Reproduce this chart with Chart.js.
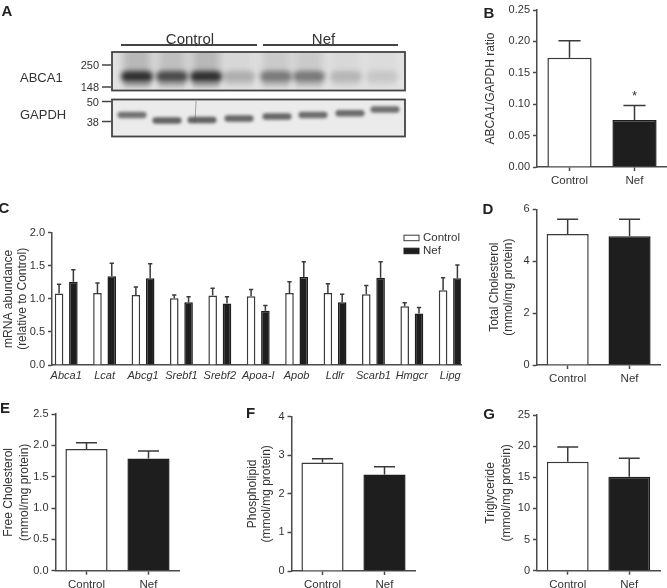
<!DOCTYPE html>
<html>
<head>
<meta charset="utf-8">
<script src="https://cdn.jsdelivr.net/npm/chart.js@4.4.1/dist/chart.umd.min.js"></script>
<style>
  body { margin: 0; background: #fff; }
  #fig { position: relative; width: 667px; height: 588px; overflow: hidden; font-family: "Liberation Sans", Arial, sans-serif; color: #333; }
  #fig canvas { position: absolute; left: 0; top: 0; }
  .lbl { position: absolute; white-space: nowrap; line-height: 1; }
  .panel { font-weight: bold; font-size: 15px; color: #222; }
  .blot { font-size: 13px; }
  .blothead { font-size: 15px; }
  .marker { font-size: 11px; }
</style>
</head>
<body>
<div id="fig">
  <canvas id="blot" width="667" height="588"></canvas>
  <canvas id="chartB" width="667" height="588"></canvas>
  <canvas id="chartC" width="667" height="588"></canvas>
  <canvas id="chartD" width="667" height="588"></canvas>
  <canvas id="chartE" width="667" height="588"></canvas>
  <canvas id="chartF" width="667" height="588"></canvas>
  <canvas id="chartG" width="667" height="588"></canvas>
</div>
<script>
const groups = ["Control", "Nef"];

// B: ABCA1/GAPDH
const ratioB = [0.174, 0.075];
const ratioBSem = [0.027, 0.023];
const ratioBSig = ["", "*"];

// C: mRNA abundance
const genes = ["Abca1", "Lcat", "Abcg1", "Srebf1", "Srebf2", "Apoa-I", "Apob", "Ldlr", "Scarb1", "Hmgcr", "Lipg"];
const mrnaControl = [1.08, 1.09, 1.06, 1.01, 1.05, 1.04, 1.09, 1.09, 1.07, 0.89, 1.13];
const mrnaControlSem = [0.14, 0.15, 0.12, 0.05, 0.11, 0.10, 0.17, 0.14, 0.13, 0.05, 0.19];
const mrnaNef = [1.26, 1.34, 1.31, 0.95, 0.93, 0.82, 1.33, 0.95, 1.32, 0.78, 1.31];
const mrnaNefSem = [0.18, 0.20, 0.22, 0.08, 0.10, 0.08, 0.23, 0.12, 0.24, 0.09, 0.20];

// D-G: lipids
const totalChol = [5.05, 4.96];
const totalCholSem = [0.57, 0.66];
const freeChol = [1.94, 1.79];
const freeCholSem = [0.10, 0.12];
const phospho = [2.81, 2.50];
const phosphoSem = [0.10, 0.20];
const trig = [17.5, 15.1];
const trigSem = [2.35, 2.95];

// A: blot band intensities per lane
const abcaBand = [0.9, 0.75, 0.9, 0.24, 0.5, 0.5, 0.2, 0.12];
const gapdhBand = [0.62, 0.7, 0.7, 0.68, 0.68, 0.65, 0.66, 0.64];

const W = 667, H = 588;
const FONT = '"Liberation Sans", Arial, sans-serif';
const TXT = "#333";
const AXIS = "#4a4a4a";
const EDGE = "#3a3a3a";
const DARK = "#1e1e1e";

const fig = document.getElementById("fig");
function addText(t, x, y, cls, align) {
  const d = document.createElement("div");
  d.className = "lbl " + cls;
  d.textContent = t;
  d.style.left = x + "px";
  d.style.top = y + "px";
  const tx = align === "right" ? "-100%" : align === "left" ? "0" : "-50%";
  d.style.transform = `translate(${tx},-50%)`;
  fig.appendChild(d);
}

// ---- panel A: western blot ----
function roundBand(ctx, x, y, w, h) {
  ctx.beginPath();
  ctx.roundRect(x - w / 2, y - h / 2, w, h, h / 2);
  ctx.fill();
}

function drawBlot() {
  const ctx = document.getElementById("blot").getContext("2d");
  const laneA = [137, 172, 206, 239, 276, 309, 346, 382];
  const laneG = [132, 167, 202, 239, 277, 313, 350, 385];
  const yG = [115, 120.5, 120, 118.5, 116.5, 115, 113.3, 109.5];

  ctx.fillStyle = "#e2e2e2";
  ctx.fillRect(112, 52, 293, 38.5);
  ctx.fillStyle = "#ebebeb";
  ctx.fillRect(112, 99.5, 293, 37);

  ctx.save();
  ctx.beginPath();
  ctx.rect(112, 52, 293, 38.5);
  ctx.clip();
  laneA.forEach((x, i) => {
    const a = abcaBand[i];
    ctx.save();
    ctx.filter = "blur(4px)";
    ctx.fillStyle = `rgba(70,70,70,${a * 0.3})`;
    ctx.fillRect(x - 14, 46, 28, 30);
    ctx.filter = "blur(2.5px)";
    ctx.fillStyle = `rgba(30,30,30,${a})`;
    roundBand(ctx, x, 76.5, 32, 11);
    ctx.fillStyle = `rgba(80,80,80,${a * 0.45})`;
    roundBand(ctx, x, 84, 28, 6);
    ctx.restore();
  });
  ctx.restore();

  ctx.save();
  ctx.beginPath();
  ctx.rect(112, 99.5, 293, 37);
  ctx.clip();
  laneG.forEach((x, i) => {
    ctx.save();
    ctx.filter = "blur(1.6px)";
    ctx.fillStyle = `rgba(40,40,40,${gapdhBand[i]})`;
    roundBand(ctx, x, yG[i], 29, 6.5);
    ctx.restore();
  });
  ctx.strokeStyle = "rgba(80,80,80,0.6)";
  ctx.lineWidth = 0.8;
  ctx.beginPath();
  ctx.moveTo(196, 101);
  ctx.lineTo(195, 123);
  ctx.stroke();
  ctx.restore();

  ctx.strokeStyle = "#444";
  ctx.lineWidth = 1.8;
  ctx.strokeRect(112, 52, 293, 38.5);
  ctx.strokeRect(112, 99.5, 293, 37);

  ctx.lineWidth = 2;
  ctx.beginPath();
  ctx.moveTo(121, 45); ctx.lineTo(257, 45);
  ctx.moveTo(263, 45); ctx.lineTo(398, 45);
  ctx.stroke();

  ctx.lineWidth = 1.5;
  ctx.beginPath();
  [65, 87, 101.5, 121.5].forEach(y => { ctx.moveTo(102, y); ctx.lineTo(111, y); });
  ctx.stroke();
}
drawBlot();

addText("Control", 190, 37.5, "blothead");
addText("Nef", 323.5, 37.5, "blothead");
addText("ABCA1", 20, 77, "blot", "left");
addText("GAPDH", 20, 114, "blot", "left");
addText("250", 99, 65, "marker", "right");
addText("148", 99, 87, "marker", "right");
addText("50", 99, 101.5, "marker", "right");
addText("38", 99, 121.5, "marker", "right");

addText("A", 7, 10, "panel");
addText("B", 489, 11.5, "panel");
addText("C", 4, 207, "panel");
addText("D", 488, 208, "panel");
addText("E", 5, 407, "panel");
addText("F", 250.5, 412, "panel");
addText("G", 489, 412.5, "panel");

// ---- error bars + significance ----
const errorBars = {
  id: "errorBars",
  afterDatasetsDraw(chart) {
    const ctx = chart.ctx;
    const ys = chart.scales.y;
    chart.data.datasets.forEach((ds, i) => {
      if (!ds.sem) return;
      chart.getDatasetMeta(i).data.forEach((bar, j) => {
        const d = ds.data[j];
        const v = typeof d === "object" ? d.y : d;
        const top = ys.getPixelForValue(v + ds.sem[j]);
        const half = bar.width / 4;
        ctx.save();
        ctx.strokeStyle = EDGE;
        ctx.lineWidth = 1.5;
        ctx.beginPath();
        ctx.moveTo(bar.x, bar.y);
        ctx.lineTo(bar.x, top);
        ctx.moveTo(bar.x - half, top);
        ctx.lineTo(bar.x + half, top);
        ctx.stroke();
        if (ds.sig && ds.sig[j]) {
          ctx.fillStyle = TXT;
          ctx.font = "13px " + FONT;
          ctx.textAlign = "center";
          ctx.textBaseline = "middle";
          ctx.fillText(ds.sig[j], bar.x, top - 9);
        }
        ctx.restore();
      });
    });
  }
};

// legend for panel C
const boxLegend = {
  id: "boxLegend",
  afterDraw(chart) {
    if (!chart.options.plugins.boxLegend || !chart.options.plugins.boxLegend.show) return;
    const ctx = chart.ctx;
    const x = chart.chartArea.right - 57;
    let y = chart.chartArea.top + 5;
    chart.data.datasets.forEach(ds => {
      ctx.save();
      ctx.fillStyle = ds.backgroundColor;
      ctx.fillRect(x, y - 2.5, 15, 5.5);
      ctx.strokeStyle = ds.borderColor;
      ctx.lineWidth = 1;
      ctx.strokeRect(x, y - 2.5, 15, 5.5);
      ctx.fillStyle = TXT;
      ctx.font = "11.5px " + FONT;
      ctx.textBaseline = "middle";
      ctx.fillText(ds.label, x + 19, y);
      ctx.restore();
      y += 13;
    });
  }
};

function yAxis(p) {
  return {
    min: 0,
    max: p.yMax,
    afterFit: s => { s.width = p.yWidth; },
    ticks: {
      stepSize: p.step,
      color: TXT,
      padding: 3,
      font: { family: FONT, size: 11 },
      callback: v => v.toFixed(p.dec)
    },
    grid: { display: true, drawOnChartArea: false, drawTicks: true, tickLength: 4, tickColor: AXIS, tickWidth: 1.5 },
    border: { display: true, color: AXIS, width: 1.5 },
    title: {
      display: true,
      text: p.title,
      color: TXT,
      padding: 0,
      font: { family: FONT, size: 12, lineHeight: p.lh || 1.25 }
    }
  };
}

function makeSimple(id, values, sem, sig, p) {
  const a = p.area;
  const xh = Math.min(22, H - a.b);
  return new Chart(document.getElementById(id), {
    type: "bar",
    data: {
      labels: groups,
      datasets: [{
        data: values,
        sem: sem,
        sig: sig,
        backgroundColor: ["#ffffff", DARK],
        borderColor: [EDGE, DARK],
        borderWidth: 1.5,
        barPercentage: 0.68,
        categoryPercentage: 1
      }]
    },
    options: {
      responsive: false,
      animation: false,
      layout: { padding: { left: a.l - p.yWidth, top: a.t, right: W - a.r, bottom: H - a.b - xh } },
      plugins: { legend: { display: false }, tooltip: { enabled: false } },
      scales: {
        x: {
          afterFit: s => { s.height = xh; },
          ticks: { color: TXT, padding: 3, maxRotation: 0, autoSkip: false, font: { family: FONT, size: 11.5 } },
          grid: { display: true, offset: false, drawOnChartArea: false, drawTicks: true, tickLength: 4, tickColor: AXIS, tickWidth: 1.5 },
          border: { display: true, color: AXIS, width: 1.5 }
        },
        y: yAxis(p)
      }
    },
    plugins: [errorBars]
  });
}

makeSimple("chartB", ratioB, ratioBSem, ratioBSig, {
  area: { l: 537, t: 10, r: 667, b: 167 }, yWidth: 53.5, yMax: 0.25, step: 0.05, dec: 2,
  title: "ABCA1/GAPDH ratio"
});
makeSimple("chartD", totalChol, totalCholSem, null, {
  area: { l: 536.7, t: 209.3, r: 660.5, b: 365 }, yWidth: 49.2, yMax: 6, step: 2, dec: 0,
  title: ["Total Cholesterol", "(mmol/mg protein)"], lh: 1.2
});
makeSimple("chartE", freeChol, freeCholSem, null, {
  area: { l: 55.5, t: 414, r: 179.5, b: 570.7 }, yWidth: 54.7, yMax: 2.5, step: 0.5, dec: 1,
  title: ["Free Cholesterol", "(mmol/mg protein)"], lh: 1.35
});
makeSimple("chartF", phospho, phosphoSem, null, {
  area: { l: 291.5, t: 416.7, r: 415.5, b: 571 }, yWidth: 46, yMax: 4, step: 1, dec: 0,
  title: ["Phospholipid", "(mmol/mg protein)"], lh: 1.2
});
makeSimple("chartG", trig, trigSem, null, {
  area: { l: 537, t: 415, r: 660, b: 570.7 }, yWidth: 54.5, yMax: 25, step: 5, dec: 0,
  title: ["Triglyceride", "(mmol/mg protein)"], lh: 1.35
});

// ---- panel C: grouped bars on a linear x scale ----
(function () {
  const a = { l: 52, t: 232.7, r: 461, b: 365 };
  const yWidth = 49.6, xh = 22;
  const common = { borderWidth: 1.5, barPercentage: 0.6, categoryPercentage: 0.745 };
  new Chart(document.getElementById("chartC"), {
    type: "bar",
    data: {
      datasets: [
        Object.assign({
          label: "Control",
          data: mrnaControl.map((v, i) => ({ x: i, y: v })),
          sem: mrnaControlSem,
          backgroundColor: "#ffffff",
          borderColor: EDGE
        }, common),
        Object.assign({
          label: "Nef",
          data: mrnaNef.map((v, i) => ({ x: i, y: v })),
          sem: mrnaNefSem,
          backgroundColor: DARK,
          borderColor: DARK
        }, common)
      ]
    },
    options: {
      responsive: false,
      animation: false,
      layout: { padding: { left: a.l - yWidth, top: a.t, right: W - a.r, bottom: H - a.b - xh } },
      plugins: { legend: { display: false }, tooltip: { enabled: false }, boxLegend: { show: true } },
      scales: {
        x: {
          type: "linear",
          offset: false,
          min: -0.37,
          max: 10.28,
          afterFit: s => { s.height = xh; },
          afterBuildTicks: s => { s.ticks = genes.map((g, i) => ({ value: i })); },
          ticks: {
            color: TXT, padding: 4, maxRotation: 0, autoSkip: false,
            font: { family: FONT, size: 11, style: "italic" },
            callback: v => genes[v]
          },
          grid: { display: true, offset: false, drawOnChartArea: false, drawTicks: false },
          border: { display: true, color: AXIS, width: 1.5 }
        },
        y: yAxis({ yWidth: yWidth, yMax: 2, step: 0.5, dec: 1, lh: 1.1, title: ["mRNA abundance", "(relative to Control)"] })
      }
    },
    plugins: [errorBars, boxLegend]
  });
})();
</script>
</body>
</html>
